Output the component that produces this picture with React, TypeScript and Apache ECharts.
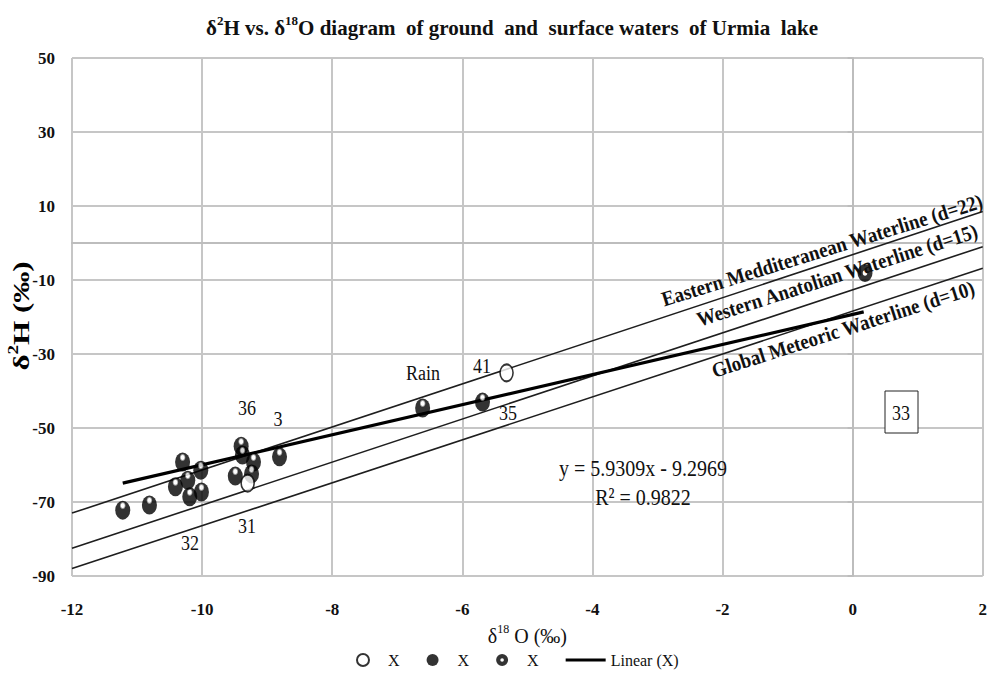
import React, { useEffect, useRef } from "react";
import * as echarts from "echarts";

const FONT = "Liberation Serif";

// ---- data ----
const xRange = [-12, 2];
const xStep = 2;
const yRange = [-90, 50];
const yStep = 20;

const openPoints: number[][] = [
  [-5.32, -35.1],
  [-9.3, -64.9],
];
const filledPoints: number[][] = [
  [-11.22, -72.2],
  [-10.81, -70.8],
  [-10.3, -59.2],
  [-10.41, -65.9],
  [-10.19, -68.6],
  [-10.02, -61.4],
  [-10.01, -67.3],
  [-10.22, -64.1],
  [-9.4, -54.9],
  [-9.38, -57.3],
  [-9.21, -59.2],
  [-9.49, -63.0],
  [-9.24, -62.4],
  [-8.81, -57.8],
  [-6.61, -44.6],
  [-5.69, -43.0],
];
const ringPoints: number[][] = [[0.19, -8.1]];
const linearFit: number[][] = [
  [-11.22, -64.9],
  [0.17, -18.6],
];
const easternMedLine: number[][] = [
  [-12, -73],
  [2, 8.5],
];
const westernAnatolianLine: number[][] = [
  [-12, -82.5],
  [2, -1],
];
const globalMeteoricLine: number[][] = [
  [-12, -88],
  [2, -6.8],
];

const waterlineNames = [
  "Eastern Medditeranean Waterline (d=22)",
  "Western Anatolian Waterline (d=15)",
  "Global Meteoric Waterline (d=10)",
];
const sampleLabels = ["36", "3", "32", "31", "Rain", "41", "35"];
const equationText = "y = 5.9309x - 9.2969";
const r2Text = "R\u00B2 = 0.9822";
const boxLabel = "33";

const ELLIPSE = "path://M10,0A10,10,0,1,1,10,20A10,10,0,1,1,10,0Z";
const RING = "path://M10,0A10,10,0,1,1,10,20A10,10,0,1,1,10,0ZM10,7A3,3,0,1,0,10,13A3,3,0,1,0,10,7Z";
const LINE_ICON = "path://M0,0L40,0L40,3L0,3Z";

export default function App() {
  const ref = useRef<HTMLDivElement>(null);

  useEffect(() => {
    if (!ref.current) return;
    const chart = echarts.init(ref.current, undefined, { renderer: "svg" });

    const labelPos = [
      [247, 407],
      [278, 418],
      [190, 542],
      [247, 525],
      [423, 372],
      [482, 365],
      [508, 412],
    ];
    const wlPos = [
      [822, 250, 0.3],
      [837, 275, 0.31],
      [843, 329, 0.31],
    ];

    const textEl = (text: string, x: number, y: number, size: number, extra: any = {}) => ({
      type: "text",
      x,
      y,
      z: 100,
      scaleY: extra.scaleY ?? 1.2,
      rotation: extra.rotation ?? 0,
      style: {
        text,
        fontFamily: FONT,
        fontSize: size,
        fontWeight: extra.fontWeight ?? "normal",
        fill: "#111",
        align: "center",
        verticalAlign: "middle",
      },
    });

    const supRich = (size: number, weight: string) => ({
      m: { fontFamily: FONT, fontSize: size, fontWeight: weight, color: "#111", lineHeight: size + 6, verticalAlign: "middle" },
      s: { fontFamily: FONT, fontSize: Math.round(size * 0.6), fontWeight: weight, color: "#111", lineHeight: Math.round(size * 0.7), verticalAlign: "top" },
    });

    const highlight = new echarts.graphic.RadialGradient(0.5, 0.26, 0.5, [
      { offset: 0, color: "#ffffff" },
      { offset: 0.2, color: "#ffffff" },
      { offset: 0.42, color: "#000000" },
      { offset: 1, color: "#000000" },
    ]);

    const option: any = {
      animation: false,
      backgroundColor: "#fff",
      textStyle: { fontFamily: FONT },
      title: {
        text: "{m|\u03B4}{s|2}{m|H vs. \u03B4}{s|18}{m|O diagram  of ground  and  surface waters  of Urmia  lake}",
        left: 201,
        top: 9,
        textStyle: { fontFamily: FONT, rich: supRich(21, "bold") },
      },
      grid: { left: 72, top: 58, width: 914, height: 518 },
      legend: {
        left: 351,
        top: 647,
        itemWidth: 40,
        itemHeight: 12,
        itemGap: 27,
        symbolKeepAspect: true,
        textStyle: { fontFamily: FONT, fontSize: 16, color: "#111" },
        formatter: (name: string) => (name.startsWith("Linear") ? name : "X"),
        data: [
          { name: "S1", icon: ELLIPSE },
          { name: "S2", icon: ELLIPSE, itemStyle: { color: "#000" } },
          { name: "S3", icon: RING, itemStyle: { color: "#000" } },
          { name: "Linear (X)", icon: LINE_ICON, itemStyle: { color: "#000" } },
        ],
      },
      xAxis: {
        type: "value",
        min: xRange[0],
        max: xRange[1],
        interval: xStep,
        name: "{m|\u03B4}{s|18}{m| O (\u2030)}",
        nameLocation: "middle",
        nameGap: 30,
        nameTextStyle: { fontFamily: FONT, rich: supRich(20, "normal") },
        axisLine: { show: true, lineStyle: { color: "#bdbdbd", width: 2 } },
        axisTick: { show: false },
        axisLabel: { fontFamily: FONT, fontSize: 17, fontWeight: "bold", color: "#111", margin: 25 },
        splitLine: { show: true, lineStyle: { color: "#c6c6c6", width: 2 } },
      },
      yAxis: {
        type: "value",
        min: yRange[0],
        max: yRange[1],
        interval: yStep,
        axisLine: { show: true, lineStyle: { color: "#bdbdbd", width: 2 } },
        axisTick: { show: true, length: 5, lineStyle: { color: "#bdbdbd", width: 2 } },
        axisLabel: { fontFamily: FONT, fontSize: 17, fontWeight: "bold", color: "#111", margin: 17 },
        splitLine: { show: true, lineStyle: { color: "#c6c6c6", width: 2 } },
      },
      series: [
        {
          name: "EMWL",
          type: "line",
          data: easternMedLine,
          symbol: "none",
          silent: true,
          lineStyle: { color: "#1e1e1e", width: 1.6 },
          z: 2,
        },
        {
          name: "WAWL",
          type: "line",
          data: westernAnatolianLine,
          symbol: "none",
          silent: true,
          lineStyle: { color: "#1e1e1e", width: 1.6 },
          z: 2,
        },
        {
          name: "GMWL",
          type: "line",
          data: globalMeteoricLine,
          symbol: "none",
          silent: true,
          lineStyle: { color: "#1e1e1e", width: 1.6 },
          z: 2,
        },
        {
          name: "Linear (X)",
          type: "line",
          data: linearFit,
          symbol: "none",
          lineStyle: { color: "#000", width: 3.2 },
          itemStyle: { color: "#000" },
          z: 3,
        },
        {
          name: "S2",
          type: "scatter",
          data: filledPoints,
          symbol: ELLIPSE,
          symbolSize: [15, 19],
          itemStyle: { color: highlight },
          z: 4,
        },
        {
          name: "S1",
          type: "scatter",
          data: openPoints,
          symbol: ELLIPSE,
          symbolSize: [13, 17],
          itemStyle: { color: "#fff", borderColor: "#000", borderWidth: 1.8 },
          z: 5,
        },
        {
          name: "S3",
          type: "scatter",
          data: ringPoints,
          symbol: RING,
          symbolSize: [15, 18],
          itemStyle: { color: "#000" },
          z: 5,
        },
      ],
      graphic: [
        {
          type: "text",
          x: 21,
          y: 316,
          rotation: Math.PI / 2,
          scaleX: 1.35,
          z: 100,
          style: {
            text: "{m|\u03B4}{s|2}{m|H (\u2030)}",
            fontFamily: FONT,
            rich: supRich(23, "bold"),
            align: "center",
            verticalAlign: "middle",
          },
        },
        ...sampleLabels.map((t, i) => textEl(t, labelPos[i][0], labelPos[i][1], 18)),
        ...waterlineNames.map((t, i) =>
          textEl(t, wlPos[i][0], wlPos[i][1], 19, { fontWeight: "bold", rotation: wlPos[i][2], scaleY: 1.1 })
        ),
        {
          type: "rect",
          z: 99,
          shape: { x: 885, y: 391, width: 33, height: 42 },
          style: { fill: "#fff", stroke: "#222", lineWidth: 1 },
        },
        textEl(boxLabel, 901, 412, 18),
        textEl(equationText, 643, 468, 20),
        textEl(r2Text, 643, 497, 20),
      ],
    };

    chart.setOption(option);
    return () => chart.dispose();
  }, []);

  return (
    <div
      ref={ref}
      style={{ position: "fixed", left: 0, top: 0, width: 990, height: 674, background: "#fff" }}
    />
  );
}
